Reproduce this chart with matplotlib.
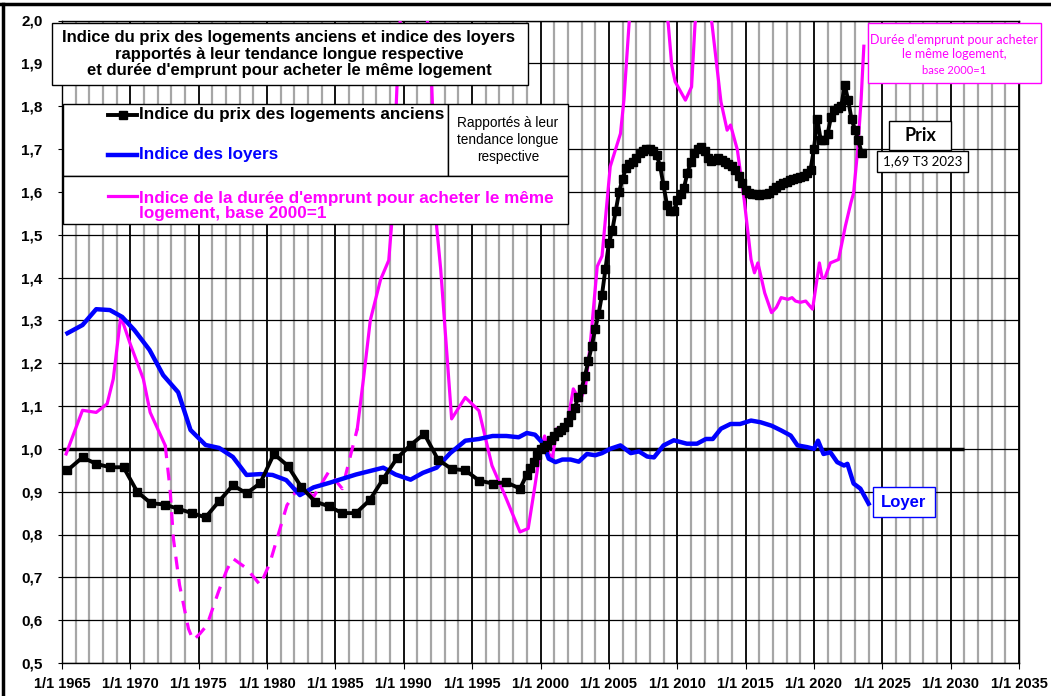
import matplotlib as mpl
import matplotlib.pyplot as plt
from matplotlib.patches import Rectangle
from matplotlib.lines import Line2D
from matplotlib.ticker import MultipleLocator, FuncFormatter

mpl.rcParams['font.family'] = ['Liberation Sans', 'DejaVu Sans']

# ---------------------------------------------------------------- data
# indice du prix des logements anciens / tendance longue
prix_annees = [1965.4, 1966.5, 1967.5, 1968.5, 1969.5, 1970.5, 1971.5, 1972.5, 1973.5, 1974.5,
               1975.5, 1976.5, 1977.5, 1978.5, 1979.5, 1980.5, 1981.5, 1982.5, 1983.5, 1984.5,
               1985.5, 1986.5, 1987.5, 1988.5, 1989.5, 1990.5, 1991.5, 1992.5, 1993.5, 1994.5,
               1995.5, 1996.5, 1997.5, 1998.5,
               1999.0, 1999.25, 1999.5, 1999.75, 2000.0, 2000.25, 2000.5, 2000.75,
               2001.0, 2001.25, 2001.5, 2001.75, 2002.0, 2002.25, 2002.5, 2002.75,
               2003.0, 2003.25, 2003.5, 2003.75, 2004.0, 2004.25, 2004.5, 2004.75,
               2005.0, 2005.25, 2005.5, 2005.75, 2006.0, 2006.25, 2006.5, 2006.75,
               2007.0, 2007.25, 2007.5, 2007.75, 2008.0, 2008.25, 2008.5, 2008.75,
               2009.0, 2009.25, 2009.5, 2009.75, 2010.0, 2010.25, 2010.5, 2010.75,
               2011.0, 2011.25, 2011.5, 2011.75, 2012.0, 2012.25, 2012.5, 2012.75,
               2013.0, 2013.25, 2013.5, 2013.75, 2014.0, 2014.25, 2014.5, 2014.75,
               2015.0, 2015.25, 2015.5, 2015.75, 2016.0, 2016.25, 2016.5, 2016.75,
               2017.0, 2017.25, 2017.5, 2017.75, 2018.0, 2018.25, 2018.5, 2018.75,
               2019.0, 2019.25, 2019.5, 2019.75, 2020.0, 2020.25, 2020.5, 2020.75,
               2021.0, 2021.25, 2021.5, 2021.75, 2022.0, 2022.25, 2022.5, 2022.75,
               2023.0, 2023.25, 2023.5]
prix_valeurs = [0.950, 0.980, 0.965, 0.957, 0.957, 0.900, 0.873, 0.870, 0.860, 0.850,
                0.840, 0.878, 0.915, 0.896, 0.920, 0.988, 0.961, 0.911, 0.877, 0.866,
                0.850, 0.850, 0.880, 0.930, 0.978, 1.009, 1.035, 0.975, 0.953, 0.950,
                0.926, 0.919, 0.922, 0.907,
                0.940, 0.955, 0.970, 0.985, 1.000, 1.005, 1.010, 1.020,
                1.030, 1.040, 1.045, 1.052, 1.062, 1.078, 1.095, 1.120,
                1.140, 1.170, 1.205, 1.240, 1.280, 1.315, 1.360, 1.420,
                1.480, 1.510, 1.555, 1.600, 1.630, 1.655, 1.665, 1.670,
                1.680, 1.690, 1.695, 1.700, 1.700, 1.695, 1.685, 1.660,
                1.615, 1.570, 1.555, 1.555, 1.580, 1.595, 1.610, 1.645,
                1.670, 1.690, 1.700, 1.705, 1.695, 1.680, 1.672, 1.675,
                1.680, 1.675, 1.670, 1.665, 1.660, 1.650, 1.638, 1.620,
                1.605, 1.598, 1.595, 1.594, 1.593, 1.594, 1.595, 1.598,
                1.605, 1.612, 1.617, 1.620, 1.624, 1.627, 1.630, 1.632,
                1.634, 1.637, 1.645, 1.652, 1.700, 1.770, 1.720, 1.720,
                1.735, 1.775, 1.790, 1.795, 1.800, 1.850, 1.815, 1.770,
                1.745, 1.720, 1.690]

# indice des loyers / tendance longue
loyer_annees = [1965.4, 1966.5, 1967.5, 1968.5, 1969.4, 1970.3, 1971.4, 1972.4, 1973.5, 1974.4,
                1975.5, 1976.5, 1977.5, 1978.5, 1979.5, 1980.4, 1981.4, 1982.4, 1983.4, 1984.6,
                1985.5, 1986.5, 1987.5, 1988.5, 1989.4, 1990.5, 1991.4, 1992.4, 1993.4, 1994.5,
                1995.5, 1996.5, 1997.5, 1998.4, 1999.0, 1999.6, 2000.2, 2000.6, 2001.1, 2001.6,
                2002.2, 2002.8, 2003.4, 2004.0, 2004.5, 2005.1, 2005.85, 2006.6, 2007.2, 2007.8,
                2008.3, 2009.0, 2009.75, 2010.7, 2011.45, 2012.1, 2012.6, 2013.2, 2013.9, 2014.6,
                2015.4, 2016.1, 2016.9, 2017.6, 2018.3, 2018.8, 2019.5, 2020.0, 2020.3, 2020.7,
                2021.2, 2021.7, 2022.2, 2022.45, 2022.9, 2023.4, 2024.0]
loyer_valeurs = [1.270, 1.289, 1.326, 1.324, 1.308, 1.277, 1.231, 1.172, 1.132, 1.044,
                 1.009, 1.002, 0.981, 0.939, 0.941, 0.939, 0.927, 0.892, 0.910, 0.921,
                 0.930, 0.940, 0.948, 0.956, 0.940, 0.928, 0.944, 0.956, 0.990, 1.019,
                 1.023, 1.030, 1.030, 1.027, 1.037, 1.033, 1.012, 0.977, 0.969, 0.975,
                 0.975, 0.970, 0.988, 0.985, 0.990, 1.000, 1.008, 0.990, 0.994, 0.982,
                 0.980, 1.008, 1.020, 1.012, 1.012, 1.023, 1.023, 1.047, 1.058, 1.058,
                 1.066, 1.062, 1.054, 1.043, 1.031, 1.008, 1.004, 1.000, 1.019, 0.988,
                 0.992, 0.969, 0.961, 0.965, 0.919, 0.907, 0.872]

# indice de la durée d'emprunt, base 2000=1 (trois morceaux : plein, pointillé, plein)
duree_annees_1 = [1965.3, 1966.5, 1967.5, 1968.3, 1968.75, 1969.3, 1970.0, 1970.95, 1971.45, 1972.55]
duree_valeurs_1 = [0.988, 1.090, 1.085, 1.105, 1.163, 1.310, 1.244, 1.163, 1.085, 1.008]

duree_annees_2 = [1972.55, 1972.9, 1973.15, 1973.6, 1974.25, 1974.6, 1975.1, 1975.6, 1976.45, 1977.05,
                  1977.5, 1978.5, 1979.5, 1980.2, 1980.95, 1981.45, 1982.4, 1983.4, 1984.5, 1985.5,
                  1986.1, 1986.6]
duree_valeurs_2 = [1.008, 0.907, 0.790, 0.682, 0.580, 0.553, 0.569, 0.588, 0.667, 0.717,
                   0.744, 0.721, 0.682, 0.733, 0.814, 0.868, 0.915, 0.888, 0.946, 0.907,
                   0.984, 1.047]

duree_annees_3 = [1986.6, 1987.05, 1987.55, 1988.3, 1988.9, 1989.1, 1989.5, 1990.2, 1991.0, 1992.05,
                  1992.4, 1992.7, 1993.5, 1994.5, 1995.5, 1996.45, 1997.4, 1998.5, 1999.1, 1999.6,
                  2000.0, 2000.3, 2000.6, 2000.85, 2001.2, 2001.9, 2002.4, 2002.9, 2003.3, 2003.65,
                  2004.15, 2004.5, 2005.1, 2005.85, 2006.1, 2006.6, 2007.5, 2008.5, 2009.35, 2009.6,
                  2009.85, 2010.6, 2011.05, 2011.3, 2011.9, 2012.55, 2013.2, 2013.65, 2013.9, 2014.4,
                  2014.9, 2015.4, 2015.65, 2015.9, 2016.4, 2016.9, 2017.25, 2017.6, 2018.1, 2018.4,
                  2018.65, 2019.0, 2019.4, 2019.9, 2020.4, 2020.6, 2020.8, 2021.2, 2021.8, 2022.3,
                  2022.7, 2022.9, 2023.2, 2023.45, 2023.65]
duree_valeurs_3 = [1.047, 1.163, 1.300, 1.395, 1.440, 1.520, 1.845, 2.300, 2.350, 1.845,
                   1.520, 1.419, 1.070, 1.120, 1.089, 0.961, 0.891, 0.806, 0.814, 0.915,
                   1.000, 1.030, 0.990, 0.975, 1.047, 1.047, 1.140, 1.112, 1.147, 1.248,
                   1.426, 1.450, 1.659, 1.736, 1.814, 2.050, 2.300, 2.200, 1.990, 1.895,
                   1.857, 1.814, 1.845, 1.990, 2.150, 1.990, 1.810, 1.744, 1.756, 1.698,
                   1.581, 1.442, 1.411, 1.434, 1.364, 1.318, 1.330, 1.353, 1.349, 1.353,
                   1.345, 1.342, 1.345, 1.326, 1.434, 1.399, 1.399, 1.434, 1.442, 1.520,
                   1.574, 1.597, 1.698, 1.814, 1.940]

# ----------------------------------------------------------------------

W, H = 1051, 696


def fx(x):
    return x / W


def fy(y):
    return 1 - y / H


fig = plt.figure(figsize=(W / 100, H / 100), dpi=100)
ax = fig.add_axes([fx(62), fy(663), (1019 - 62) / W, (663 - 20.5) / H])

ax.plot(duree_annees_1, duree_valeurs_1, color='#ff00ff', lw=2.3, zorder=3)
ax.plot(duree_annees_2, duree_valeurs_2, color='#ff00ff', lw=2.3, ls=(0, (4, 3)), zorder=3)
ax.plot(duree_annees_3, duree_valeurs_3, color='#ff00ff', lw=2.3, zorder=3)
ax.plot(loyer_annees, loyer_valeurs, color='#0000ff', lw=3.2, zorder=4)
ax.plot(prix_annees, prix_valeurs, color='black', lw=2.8, marker='s', ms=5.5, zorder=5)
ax.hlines(1.0, 1965, 2031, color='black', lw=2.5, zorder=2)

ax.set_xlim(1965, 2035)
ax.set_ylim(0.5, 2.0)
ax.xaxis.set_major_locator(MultipleLocator(5))
ax.xaxis.set_minor_locator(MultipleLocator(1))
ax.yaxis.set_major_locator(MultipleLocator(0.1))
ax.xaxis.set_major_formatter(FuncFormatter(lambda v, p: '1/1 %d' % round(v)))
ax.yaxis.set_major_formatter(FuncFormatter(lambda v, p: ('%.1f' % v).replace('.', ',')))
ax.set_axisbelow(True)
ax.grid(which='minor', axis='x', color='#a6a6a6', lw=1.6)
ax.grid(which='major', axis='x', color='black', lw=1.3)
ax.grid(which='major', axis='y', color='black', lw=0.9)
ax.tick_params(axis='x', which='minor', length=0)
ax.tick_params(axis='x', which='major', length=4, pad=6)
ax.tick_params(axis='y', length=3, pad=11)
for lab in ax.get_xticklabels():
    lab.set_fontsize(10.5)
    lab.set_fontweight('bold')
for lab in ax.get_yticklabels():
    lab.set_fontsize(11)
    lab.set_fontweight('bold')
for s in ax.spines.values():
    s.set_linewidth(1.0)


def box(x0, y0, x1, y1, ec='black', lw=1.0):
    fig.add_artist(Rectangle((fx(x0), fy(y1)), fx(x1) - fx(x0), fy(y0) - fy(y1),
                             transform=fig.transFigure, facecolor='white',
                             edgecolor=ec, lw=lw, zorder=10))


# titre
box(52, 23, 528, 85)
fig.text(fx(289), fy(54), "Indice du prix des logements anciens et indice des loyers\n"
         "rapportés à leur tendance longue respective\n"
         "et durée d'emprunt pour acheter le même logement",
         ha='center', va='center', fontsize=12, fontweight='bold', linespacing=1.12, zorder=11)

# légende
box(63, 104, 448, 176)
box(448, 104, 568, 176)
box(63, 176, 568, 224)
fig.add_artist(Line2D([fx(108), fx(137)], [fy(115), fy(115)], color='black', lw=2.8, zorder=12))
fig.add_artist(Line2D([fx(122.5)], [fy(115)], color='black', marker='s', ms=5.5, zorder=12))
fig.add_artist(Line2D([fx(108), fx(137)], [fy(155), fy(155)], color='#0000ff', lw=3.2, zorder=12))
fig.add_artist(Line2D([fx(108), fx(137)], [fy(196), fy(196)], color='#ff00ff', lw=2.3, zorder=12))
fig.text(fx(139), fy(115), 'Indice du prix des logements anciens', ha='left', va='center',
         fontsize=12.3, fontweight='bold', color='black', zorder=12)
fig.text(fx(139), fy(155), 'Indice des loyers', ha='left', va='center',
         fontsize=12.3, fontweight='bold', color='#0000ff', zorder=12)
fig.text(fx(139), fy(205.5), "Indice de la durée d'emprunt pour acheter le même\nlogement, base 2000=1",
         ha='left', va='center', fontsize=12.3, fontweight='bold', color='#ff00ff',
         linespacing=1.0, zorder=12)
fig.text(fx(508), fy(140), 'Rapportés à leur\ntendance longue\nrespective', ha='center', va='center',
         fontsize=9.8, linespacing=1.3, zorder=12)

# annotations à droite
box(868, 23, 1041, 83, ec='#ff00ff')
fig.text(fx(954.5), fy(47), "Durée d'emprunt pour acheter\nle même logement,", ha='center', va='center',
         fontsize=9, color='#ff00ff', family='Lato', linespacing=1.3, zorder=12)
fig.text(fx(954.5), fy(70), 'base 2000=1', ha='center', va='center',
         fontsize=8, color='#ff00ff', family='Lato', zorder=12)

box(889, 121, 951, 150)
fig.text(fx(920), fy(135.5), 'Prix', ha='center', va='center', fontsize=13,
         fontweight='bold', family='Lato', zorder=12)
box(877, 151, 968, 172)
fig.text(fx(922.5), fy(161.5), '1,69 T3 2023', ha='center', va='center', fontsize=9.5,
         family='Lato', zorder=12)

box(873, 487, 935, 517, ec='#0000ff')
fig.text(fx(904), fy(502), 'Loyer', ha='center', va='center', fontsize=12,
         fontweight='bold', color='#0000ff', zorder=12)

# cadre du graphique
fig.add_artist(Line2D([0, 1], [fy(3.5), fy(3.5)], color='black', lw=2.5, zorder=20))
fig.add_artist(Line2D([fx(2.5), fx(2.5)], [0, fy(3.5)], color='black', lw=2.5, zorder=20))

plt.savefig('out.png', dpi=100)
